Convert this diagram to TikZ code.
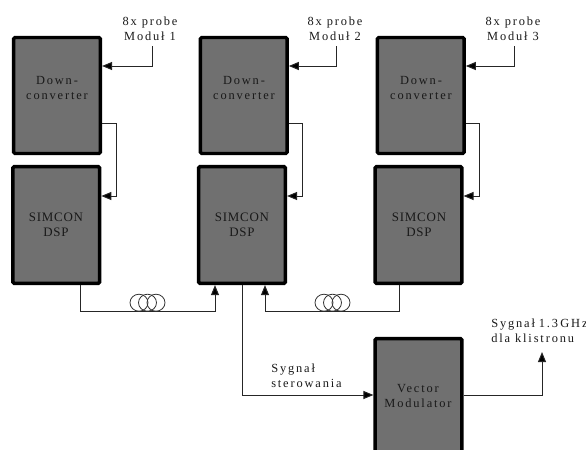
\documentclass[tikz,border=0pt]{standalone}
\usepackage{fontspec}
\setmainfont{Liberation Serif}
\newfontfamily\lblfont[LetterSpace=15]{Liberation Serif}
\newfontfamily\capfont[LetterSpace=6]{Liberation Serif}
\usetikzlibrary{arrows.meta}
\tikzset{
  blockbox/.style={draw=black,fill=boxgray,line width=2.6pt,rounded corners=1pt,minimum width=65pt,minimum height=87pt,inner sep=0pt},
  lbl/.style={font=\fontsize{9.3pt}{11.25pt}\selectfont\lblfont,align=center,inner sep=0pt,text=black!90},
  lblleft/.style={lbl,align=left,anchor=west},
  caplbl/.style={font=\fontsize{9.7pt}{11.25pt}\selectfont\capfont,align=center,inner sep=0pt,text=black!90},
  conn/.style={line width=.75pt,draw=black!85},
  arr/.style={conn,-{Triangle[length=7.5pt,width=6pt,fill=black]}},
  coil/.style={line width=.6pt,draw=black!80}
}
\definecolor{boxgray}{HTML}{707070}
\begin{document}
\begin{tikzpicture}[x=.75pt,y=-.75pt]
\useasboundingbox (0,0) rectangle (586,450);
\clip (0,0) rectangle (586,450);
% blocks
\node[blockbox] (dc1) at (57,95.5) {};
\node[blockbox] (dc2) at (243.75,95.5) {};
\node[blockbox] (dc3) at (420.75,95.5) {};
\node[blockbox,minimum height=87.5pt] (sc1) at (56.25,225) {};
\node[blockbox,minimum height=87.5pt] (sc2) at (242,225) {};
\node[blockbox,minimum height=87.5pt] (sc3) at (418.5,225) {};
\node[blockbox,minimum height=92pt] (vm) at (418.5,400) {};
% block texts
\node[lbl] (t1) at (57,87.5) {Down-\\converter};
\node[lbl] (t2) at (244,87.5) {Down-\\converter};
\node[lbl] (t3) at (421,87.5) {Down-\\converter};
\node[caplbl] (s1) at (56,225) {SIMCON\\DSP};
\node[caplbl] (s2) at (242,225) {SIMCON\\DSP};
\node[caplbl] (s3) at (419,225) {SIMCON\\DSP};
\node[lbl] (t4) at (418,395.5) {Vector\\Modulator};
% outer labels
\node[lbl] (p1) at (150,29) {8x probe\\Moduł 1};
\node[lbl] (p2) at (335,29) {8x probe\\Moduł 2};
\node[lbl] (p3) at (513,29) {8x probe\\Moduł 3};
\node[lblleft] (ster) at (271,375.5) {Sygnał\\sterowania};
\node[lblleft] (kl) at (491,330.5) {Sygnał\hspace{-.8pt} 1.3\hspace{-2pt} GHz\\dla klistronu};
% free ends
\coordinate (e1) at (152,46);
\coordinate (e2) at (336.7,46);
\coordinate (e3) at (514,46);
\coordinate (e4) at (542,352);
% probe inputs
\draw[arr] (e1) |- (dc1.east |- 0,66);
\draw[arr] (e2) |- (dc2.east |- 0,66);
\draw[arr] (e3) |- (dc3.east |- 0,66);
% down-converter to SIMCON
\draw[arr] (dc1.east |- 0,123.5) -- (116,123.5) |- (sc1.east |- 0,196);
\draw[arr] (dc2.east |- 0,123.5) -- (302,123.5) |- (sc2.east |- 0,196);
\draw[arr] (dc3.east |- 0,123.5) -- (479,123.5) |- (sc3.east |- 0,196);
% fibres
\draw[arr] (80,0 |- sc1.south) -- (80,311) -| (215,0 |- sc2.south);
\draw[arr] (399,0 |- sc3.south) -- (399,311) -| (265,0 |- sc2.south);
% control and output
\draw[arr] (242.5,0 |- sc2.south) |- (vm.west |- 0,395);
\draw[arr] (vm.east |- 0,395) -| (e4);
% coils
\foreach \cx in {139,147.5,156,324,332.5,341}
  \draw[coil] (\cx,302.7) ellipse [x radius=9,y radius=8.5];
\end{tikzpicture}
\end{document}
